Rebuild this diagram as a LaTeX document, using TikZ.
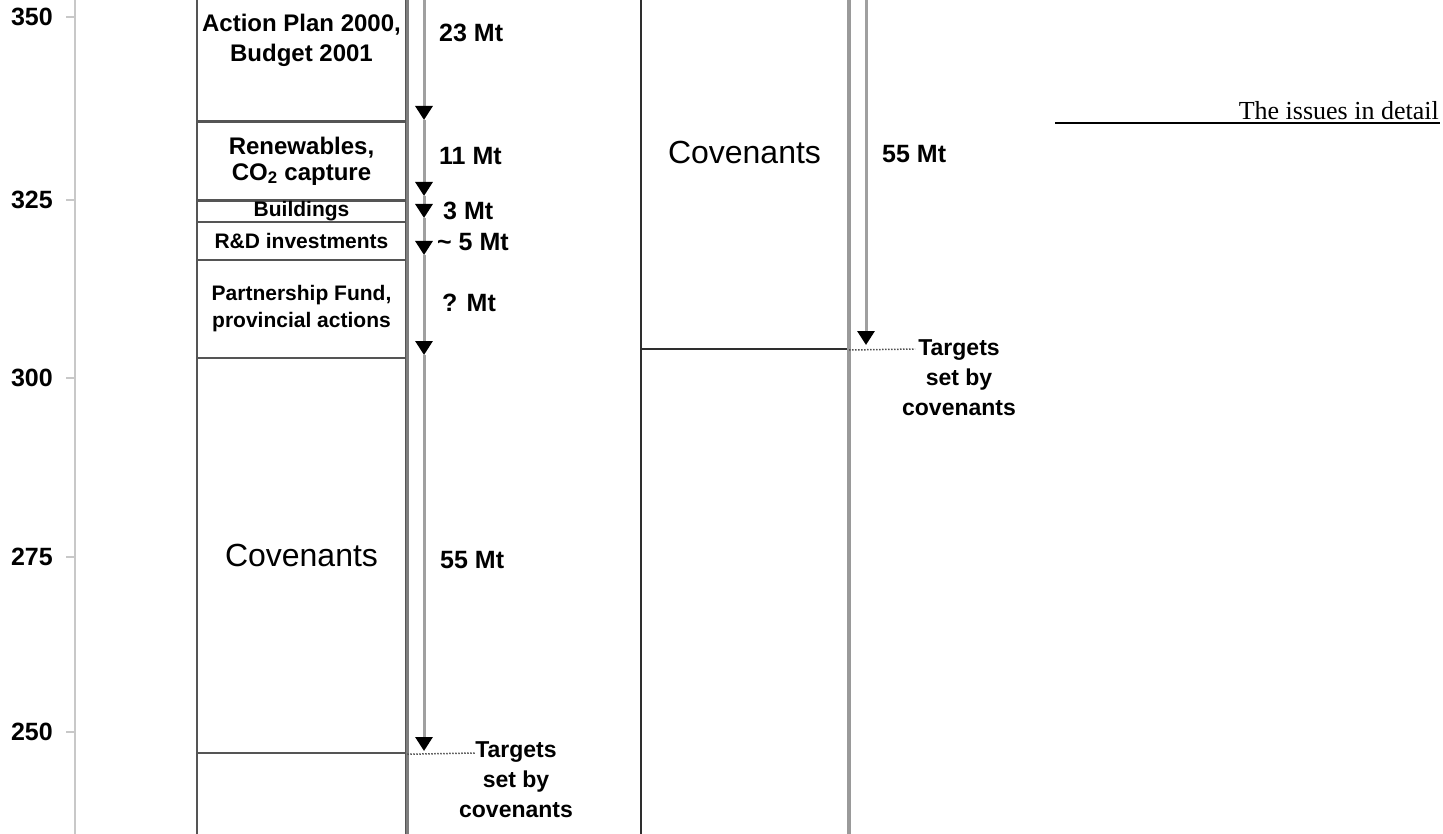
\documentclass[tikz,border=0pt]{standalone}
\usepackage{fontspec}
\setmainfont{Liberation Sans}
\newfontfamily\serifx{Liberation Serif}
\usetikzlibrary{arrows.meta}
\definecolor{lgray}{HTML}{555555}
\definecolor{ledge}{HTML}{7E7E7E}
\definecolor{rdark}{HTML}{2E2E2E}
\definecolor{redgec}{HTML}{9A9A9A}
\definecolor{arrgray}{HTML}{A0A0A0}
\definecolor{axisgray}{HTML}{C8C8C8}
\definecolor{dotgray}{HTML}{505050}
\begin{document}
\begin{tikzpicture}[x=1pt,y=-1pt,
  lcol/.style={draw=lgray, line width=2.5pt, minimum width=209pt, inner sep=0pt, align=center},
  rcol/.style={draw=rdark, line width=2pt, minimum width=207pt, inner sep=0pt, align=center},
  bigtxt/.style={font=\fontsize{32}{38}\selectfont},
  midtxt/.style={font=\fontsize{24}{30}\selectfont\bfseries},
  midtxtb/.style={font=\fontsize{24}{26}\selectfont\bfseries},
  smltxt/.style={font=\fontsize{21}{27}\selectfont\bfseries},
  mt/.style={font=\fontsize{25}{30}\selectfont\bfseries, anchor=west, inner sep=0pt},
  ticklbl/.style={font=\fontsize{25}{30}\selectfont\bfseries, anchor=east, inner sep=0pt},
  tgt/.style={font=\fontsize{23}{30}\selectfont\bfseries, align=center, anchor=north, inner sep=0pt},
  flow/.style={draw=arrgray, line width=3pt, -{Triangle[width=17pt,length=14pt,color=black]}},
  dots/.style={draw=dotgray, line width=1.5pt, dash pattern=on 1.5pt off 1.5pt},
  axisline/.style={draw=axisgray, line width=2pt},
  ledgeline/.style={draw=ledge, line width=3pt},
  redgeline/.style={draw=redgec, line width=4pt},
]
\useasboundingbox (0,0) rectangle (1443,834);
\clip (0,0) rectangle (1443,834);

% axis
\coordinate (ax0) at (75,-5);
\coordinate (ax1) at (75,840);
\draw[axisline] (ax0) -- (ax1);
\foreach \v/\yy in {350/17,325/200,300/378,275/557,250/732}{
  \coordinate (tk\v) at (75,\yy);
  \coordinate (tks\v) at (66,\yy);
  \draw[axisline] (tks\v) -- (tk\v);
  \node[ticklbl] (tl\v) at (53,\yy) {\v};
}

% left column
\node[lcol, minimum height=161pt, midtxt] (ap) at (301.5,40.5) {Action Plan 2000,\\Budget 2001};
\node[lcol, minimum height=79pt, midtxtb] (rn) at (301.5,161) {Renewables,\\CO\textsubscript{2} capture};
\node[lcol, minimum height=22pt, smltxt] (bd) at (301.5,211) {Buildings};
\node[lcol, minimum height=38pt, smltxt] (rd) at (301.5,241) {R\&D investments};
\node[lcol, minimum height=98pt, smltxt] (pf) at (301.5,309) {Partnership Fund,\\provincial actions};
\node[lcol, minimum height=395pt, bigtxt] (cvL) at (301.5,555.5) {Covenants};
\node[lcol, minimum height=147pt] (lowL) at (301.5,826.5) {};
\draw[ledgeline] (ap.north east) -- (lowL.south east);

% left arrows
\coordinate (l0) at (424,-5);
\coordinate (l1) at (424,120);
\coordinate (l2) at (424,196);
\coordinate (l3) at (424,218);
\coordinate (l4) at (424,255);
\coordinate (l5) at (424,355);
\coordinate (l6) at (424,751);
\draw[flow] (l0) -- (l1);
\draw[flow] (l1) -- (l2);
\draw[flow] (l2) -- (l3);
\draw[flow] (l3) -- (l4);
\draw[flow] (l4) -- (l5);
\draw[flow] (l5) -- (l6);

\node[mt] (m23) at (439,33) {23 Mt};
\node[mt] (m11) at (439,156) {11 Mt};
\node[mt] (m3) at (443,211) {3 Mt};
\node[mt] (m5) at (437,242) {\char`\~{} 5 Mt};
\node[mt] (mq) at (442,303) {? Mt};
\node[mt] (m55L) at (440,560) {55 Mt};

\coordinate (dL) at (475,753);
\draw[dots] (cvL.south east) -- (dL);
\node[tgt] (tgL) at (516,741) {Targets\\set by\\covenants};

% right column
\node[rcol, minimum height=394pt, bigtxt] (cvR) at (744.5,152) {Covenants};
\node[rcol, minimum height=551pt] (lowR) at (744.5,624.5) {};
\draw[redgeline] (cvR.north east) -- (lowR.south east);

\coordinate (r0) at (866,-5);
\coordinate (r1) at (866,345);
\draw[flow] (r0) -- (r1);
\node[mt] (m55R) at (882,154) {55 Mt};

\coordinate (dR) at (915,349);
\draw[dots] (cvR.south east) -- (dR);
\node[tgt] (tgR) at (959,339) {Targets\\set by\\covenants};

% header
\node[anchor=base east, inner sep=0pt, font=\serifx\fontsize{26}{30}\selectfont] (hdr) at (1439,120) {The issues in detail};
\coordinate (hl) at (1055,123);
\coordinate (hr) at (1440,123);
\draw[line width=2.5pt] (hl) -- (hr);
\end{tikzpicture}
\end{document}
